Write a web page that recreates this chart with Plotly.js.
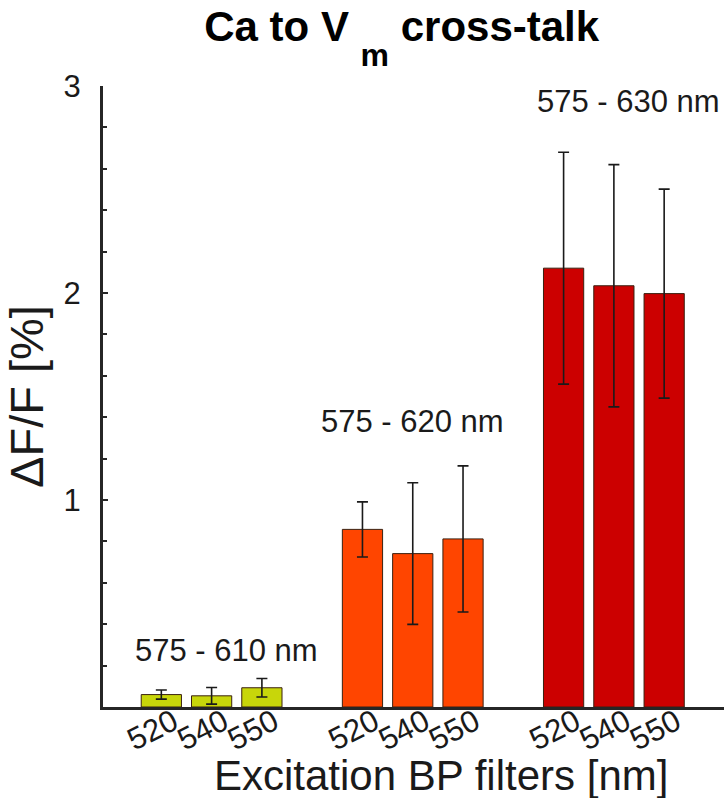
<!DOCTYPE html>
<html>
<head>
<meta charset="utf-8">
<script src="https://cdn.plot.ly/plotly-3.0.1.min.js"></script>
<style>html,body{margin:0;padding:0;background:#fff;}#chart{width:724px;height:798px;}</style>
</head>
<body>
<div id="chart"></div>
<script>
// ---- data ----
const filters = ['520', '540', '550'];
const emissionBands = ['575 - 610 nm', '575 - 620 nm', '575 - 630 nm'];
const meanBand610 = [0.06, 0.054, 0.093];
const errBand610 = [0.022, 0.04, 0.045];
const meanBand620 = [0.858, 0.741, 0.812];
const errBand620 = [0.133, 0.342, 0.353];
const meanBand630 = [2.12, 2.035, 1.997];
const errBand630 = [0.56, 0.585, 0.505];
const bandColors = ['#c8d60a', '#ff4500', '#cc0000'];
const yTickVals = [1, 2, 3];
const xTitle = 'Excitation BP filters [nm]';
const yTitle = '\u0394F/F [%]';
// label anchor positions (x in slot units, y in data units)
const labelX = [2.29, 6.0, 10.3];
const labelY = [0.273, 1.38, 2.926];

const means = [meanBand610, meanBand620, meanBand630];
const errs = [errBand610, errBand620, errBand630];

const FONT = 'Liberation Sans, Arial, Helvetica, sans-serif';
const traces = [];
const tickPos = [];
const tickTxt = [];
for (let g = 0; g < emissionBands.length; g++) {
  const xs = filters.map((f, i) => g * 4 + i + 1);
  xs.forEach((x, i) => { tickPos.push(x); tickTxt.push(filters[i]); });
  traces.push({
    type: 'bar',
    name: emissionBands[g],
    x: xs,
    y: means[g],
    width: 0.8,
    marker: { color: bandColors[g], line: { color: '#3a2010', width: 1 } },
    error_y: { type: 'data', array: errs[g], visible: true, color: '#1a1a1a', thickness: 1.6, width: 5.5 },
    hoverinfo: 'y'
  });
}

const annotations = emissionBands.map((t, g) => ({
  text: t, x: labelX[g], y: labelY[g], xref: 'x', yref: 'y',
  showarrow: false, xanchor: 'center', yanchor: 'middle',
  font: { family: FONT, size: 31, color: '#1a1a1a' }
}));
annotations.push({
  text: xTitle, x: 0.545, y: -0.11, xref: 'paper', yref: 'paper',
  showarrow: false, xanchor: 'center', yanchor: 'middle',
  font: { family: FONT, size: 42, color: '#1a1a1a' }
});

const NB = '\u00a0';
const layout = {
  width: 724, height: 798,
  margin: { l: 103, r: 0, t: 86, b: 91 },
  paper_bgcolor: '#ffffff', plot_bgcolor: '#ffffff',
  showlegend: false,
  bargap: 0,
  title: {
    text: '<b>Ca to V' + NB + '<span style="font-size:32px;baseline-shift:-25px">m</span> cross-talk</b>',
    font: { family: FONT, size: 42, color: '#000000' },
    x: 0.481, xref: 'paper', xanchor: 'center',
    y: 0.986, yref: 'container', yanchor: 'top'
  },
  xaxis: {
    range: [-0.16, 12.19],
    tickvals: tickPos, ticktext: tickTxt,
    tickangle: -27,
    tickfont: { family: FONT, size: 31, color: '#1a1a1a' },
    ticks: '', showgrid: false, zeroline: false,
    showline: true, linewidth: 3, linecolor: '#262626',
    ticklabelshift: 12,
    ticklabelstandoff: -18
  },
  yaxis: {
    range: [0, 3],
    tickvals: yTickVals,
    tickfont: { family: FONT, size: 31, color: '#1a1a1a' },
    ticks: 'inside', ticklen: 5, tickwidth: 2, tickcolor: '#262626',
    minor: { dtick: 0.2, tick0: 0, ticks: 'inside', ticklen: 4, tickwidth: 2, tickcolor: '#262626' },
    showgrid: false, zeroline: false,
    showline: true, linewidth: 3, linecolor: '#262626',
    ticklabelstandoff: 13,
    title: { text: yTitle, font: { family: FONT, size: 47, color: '#1a1a1a' }, standoff: 8 }
  },
  annotations: annotations
};

Plotly.newPlot('chart', traces, layout, { displayModeBar: false, staticPlot: true });
</script>
</body>
</html>
